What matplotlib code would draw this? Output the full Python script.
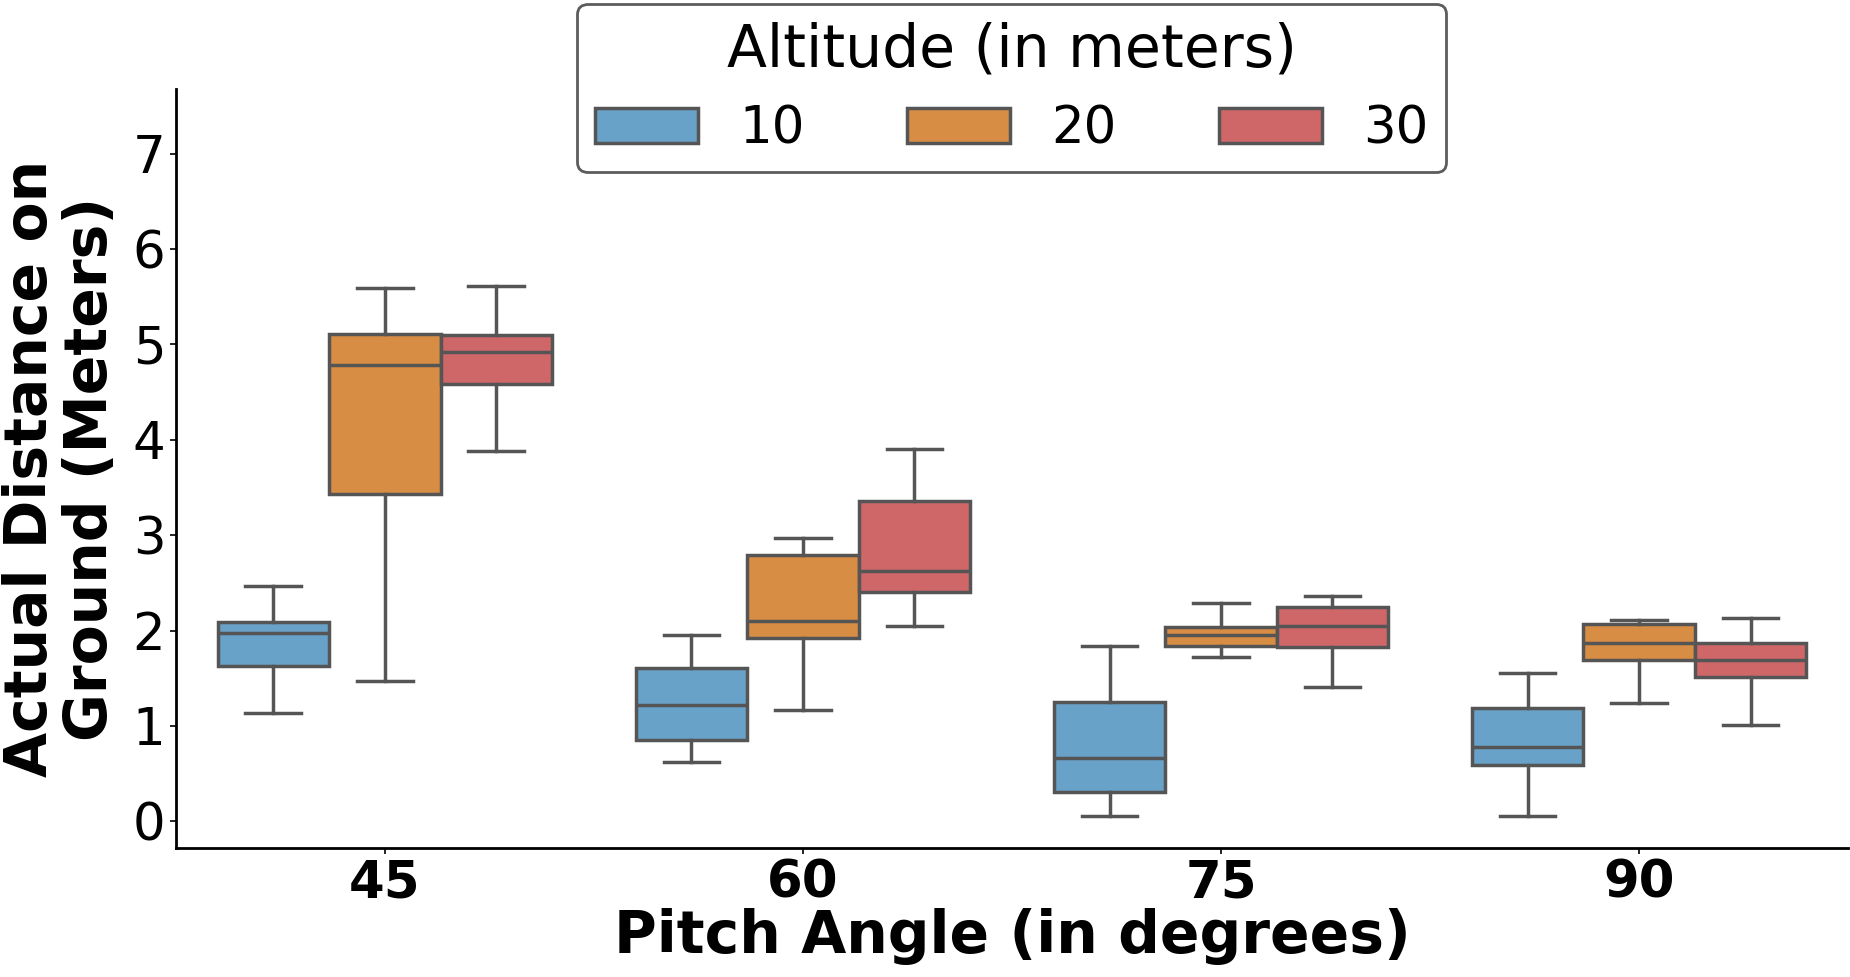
import matplotlib.pyplot as plt
from matplotlib.patches import Patch

pitch_angles = ["45", "60", "75", "90"]
altitudes = ["10", "20", "30"]
colors = ["#68a2c8", "#d88d44", "#cf6769"]

# box stats: [whislo, q1, med, q3, whishi] per pitch angle
alt10 = [[1.14, 1.63, 1.97, 2.09, 2.47],
         [0.62, 0.85, 1.22, 1.61, 1.95],
         [0.06, 0.31, 0.66, 1.25, 1.84],
         [0.06, 0.59, 0.78, 1.19, 1.56]]
alt20 = [[1.47, 3.43, 4.79, 5.11, 5.59],
         [1.17, 1.92, 2.10, 2.79, 2.97],
         [1.72, 1.84, 1.95, 2.04, 2.29],
         [1.24, 1.69, 1.87, 2.07, 2.11]]
alt30 = [[3.88, 4.59, 4.92, 5.10, 5.61],
         [2.05, 2.40, 2.63, 3.36, 3.90],
         [1.41, 1.83, 2.05, 2.25, 2.36],
         [1.01, 1.51, 1.69, 1.87, 2.13]]

fig = plt.figure(figsize=(18.5, 9.77), dpi=100)
ax = fig.add_axes([0.095, 0.132, 0.904, 0.777])

lc = "#555555"
lw = 2.5
width = 0.8 / 3
for k, series in enumerate([alt10, alt20, alt30]):
    stats = []
    for s in series:
        stats.append({"whislo": s[0], "q1": s[1], "med": s[2], "q3": s[3], "whishi": s[4], "fliers": []})
    pos = [i + (k - 1) * width for i in range(len(pitch_angles))]
    ax.bxp(stats, positions=pos, widths=width, patch_artist=True, showfliers=False,
           boxprops=dict(facecolor=colors[k], edgecolor=lc, linewidth=lw),
           medianprops=dict(color=lc, linewidth=lw),
           whiskerprops=dict(color=lc, linewidth=lw),
           capprops=dict(color=lc, linewidth=lw), capwidths=width / 2,
           manage_ticks=False)

ax.set_xlim(-0.5, 3.5)
ax.set_ylim(-0.28, 7.68)
ax.set_xticks(range(len(pitch_angles)))
ax.set_xticklabels(pitch_angles, fontsize=37, fontweight="bold")
ax.set_yticks(range(8))
ax.tick_params(axis="y", labelsize=37)
ax.tick_params(width=1.2, length=4)
for sp in ["top", "right"]:
    ax.spines[sp].set_visible(False)
for sp in ["left", "bottom"]:
    ax.spines[sp].set_linewidth(2)

ax.set_xlabel("Pitch Angle (in degrees)", fontsize=42, fontweight="bold", labelpad=0)
ax.set_ylabel("Actual Distance on\nGround (Meters)", fontsize=42, fontweight="bold",
              linespacing=1.05, labelpad=10)

handles = [Patch(facecolor=c, edgecolor=lc, linewidth=lw) for c in colors]
leg = ax.legend(handles, altitudes, title="Altitude (in meters)", ncol=3, loc="upper center",
                bbox_to_anchor=(0.5, 1.146), fontsize=37, title_fontsize=42,
                handlelength=2.0, handleheight=0.65, columnspacing=2.0, frameon=True,
                borderpad=0.35, handletextpad=0.8)
leg.get_frame().set_edgecolor("#333333")
leg.get_frame().set_linewidth(2)

fig.savefig("out.png", dpi=100)
